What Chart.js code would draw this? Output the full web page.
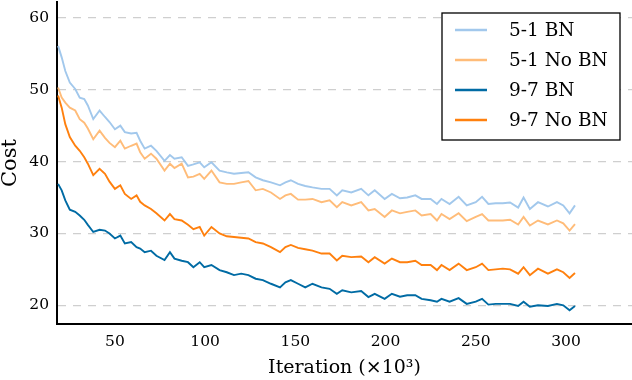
<!DOCTYPE html>
<html lang="en">
<head>
  <meta charset="UTF-8" />
  <title>Cost vs iteration</title>
  <script src="https://cdn.jsdelivr.net/npm/chart.js"></script>
  <style>
    html, body {
      margin: 0;
      padding: 0;
      background: #fff;
    }
    #wrap {
      width: 632px;
      height: 380px;
    }
  </style>
</head>
<body>
  <div id="wrap"><canvas id="costChart" width="632" height="380"></canvas></div>

  <script>
    // iterations (x10^3), shared by all four runs
    const iterations = [
      18.5, 20.5, 22.5, 25, 28, 30.5, 33, 35, 38, 41.5, 44.5, 47, 50, 53, 55.5, 59, 62, 64, 66.5, 70,
      73, 77.5, 80.5, 83, 87, 90.5, 93.5, 97, 99.5, 103.5, 108, 112, 116, 120, 124, 128, 132, 136.5, 141.5, 144.5,
      147.5, 151.5, 155.5, 159.5, 164.5, 169, 173, 176, 181, 186.5, 190.5, 194, 199.5, 203.5, 208, 212, 216.5, 220, 225, 228.5,
      231, 235.5, 240.5, 245, 250, 253.5, 257, 261, 265, 269, 273.5, 276.5, 280, 284.5, 290, 295, 298.5, 302, 305
    ];

    const cost51BN = [
      56.1, 54.5, 52.6, 51.0, 50.1, 48.9, 48.7, 47.8, 45.9, 47.1, 46.2, 45.5, 44.5, 45.0, 44.1, 43.9, 44.0, 42.9, 41.8, 42.2,
      41.5, 40.1, 40.9, 40.4, 40.6, 39.4, 39.6, 39.9, 39.2, 39.9, 38.75, 38.5, 38.3, 38.4, 38.5, 37.8, 37.4, 37.1, 36.7, 37.1,
      37.4, 36.9, 36.6, 36.4, 36.2, 36.2, 35.3, 36.0, 35.7, 36.2, 35.3, 36.0, 34.8, 35.5, 34.9, 35.0, 35.3, 34.8, 34.8, 34.1,
      34.8, 34.1, 35.1, 33.9, 34.35, 35.1, 34.1, 34.2, 34.2, 34.3, 33.6, 35.0, 33.4, 34.35, 33.75, 34.35, 33.9, 32.8, 33.9
    ];

    const cost51NoBN = [
      50.3, 48.9, 48.2, 47.5, 47.1, 45.9, 45.4, 44.6, 43.1, 44.3, 43.3, 42.6, 42.0, 42.9, 41.8, 42.2, 42.5, 41.3, 40.4, 41.1,
      40.4, 38.75, 39.7, 39.1, 39.7, 37.8, 37.9, 38.3, 37.6, 38.75, 37.1, 36.9, 36.9, 37.1, 37.3, 36.0, 36.2, 35.7, 34.8, 35.3,
      35.5, 34.7, 34.7, 34.8, 34.35, 34.6, 33.65, 34.35, 33.9, 34.35, 33.2, 33.4, 32.3, 33.2, 32.8, 33.0, 33.2, 32.5, 32.7, 31.8,
      32.7, 32.0, 32.8, 31.7, 32.3, 32.7, 31.8, 31.8, 31.8, 31.9, 31.25, 32.3, 31.1, 31.8, 31.25, 31.8, 31.4, 30.4, 31.3
    ];

    const cost97BN = [
      36.9, 36.0, 34.6, 33.3, 33.0, 32.5, 31.9, 31.2, 30.2, 30.5, 30.4, 30.0, 29.3, 29.7, 28.6, 28.8, 28.1, 27.9, 27.4, 27.6,
      26.9, 26.3, 27.4, 26.5, 26.2, 26.0, 25.3, 26.0, 25.3, 25.6, 24.9, 24.6, 24.2, 24.4, 24.2, 23.7, 23.5, 23.0, 22.5, 23.2,
      23.5, 23.0, 22.5, 23.0, 22.5, 22.3, 21.6, 22.1, 21.8, 22.0, 21.15, 21.6, 20.9, 21.6, 21.2, 21.4, 21.4, 20.9, 20.7, 20.5,
      20.9, 20.5, 21.0, 20.2, 20.5, 20.9, 20.1, 20.2, 20.2, 20.2, 19.9, 20.5, 19.8, 20.0, 19.9, 20.2, 20.0, 19.3, 19.9
    ];

    const cost97NoBN = [
      49.2, 47.5, 45.2, 43.4, 42.2, 41.5, 40.6, 39.7, 38.1, 39.0, 38.3, 37.2, 36.2, 36.7, 35.5, 34.8, 35.3, 34.4, 33.9, 33.4,
      32.8, 31.8, 32.7, 32.0, 31.8, 31.2, 30.6, 30.9, 29.7, 30.9, 30.0, 29.6, 29.5, 29.4, 29.3, 28.8, 28.6, 28.1, 27.4, 28.1,
      28.4, 28.0, 27.8, 27.6, 27.2, 27.2, 26.25, 26.9, 26.7, 26.8, 26.0, 26.7, 25.8, 26.5, 26.0, 26.0, 26.2, 25.6, 25.6, 24.9,
      25.6, 24.9, 25.8, 24.9, 25.3, 25.8, 24.9, 25.0, 25.1, 25.0, 24.4, 25.3, 24.2, 25.1, 24.4, 25.0, 24.6, 23.8, 24.5
    ];

    const seriesLabels = ['5-1 BN', '5-1 No BN', '9-7 BN', '9-7 No BN'];
    const seriesColors = ['#A2C8EC', '#FFBC79', '#006BA4', '#FF800E'];
    const xTicks = [50, 100, 150, 200, 250, 300];
    const yTicks = [20, 30, 40, 50, 60];

    const FONT = "'DejaVu Serif', serif";

    function toPoints(ys) {
      return ys.map((y, i) => ({ x: iterations[i], y }));
    }

    // legend box drawn inside the plot, top right
    const boxLegend = {
      id: 'boxLegend',
      afterDraw(chart) {
        const ctx = chart.ctx;
        const left = 442, top = 13, w = 178, h = 127;
        ctx.save();
        ctx.fillStyle = '#fff';
        ctx.fillRect(left, top, w, h);
        ctx.strokeStyle = '#000';
        ctx.lineWidth = 1.3;
        ctx.strokeRect(left, top, w, h);
        ctx.font = "18.5px " + FONT;
        ctx.textBaseline = 'middle';
        ctx.textAlign = 'left';
        chart.data.datasets.forEach((ds, i) => {
          const y = top + 17 + i * 30;
          ctx.strokeStyle = ds.borderColor;
          ctx.lineWidth = 2.5;
          ctx.beginPath();
          ctx.moveTo(455, y);
          ctx.lineTo(487, y);
          ctx.stroke();
          ctx.fillStyle = '#000';
          ctx.fillText(ds.label, 509, y + 1);
        });
        ctx.restore();
      }
    };

    const datasets = [cost51BN, cost51NoBN, cost97BN, cost97NoBN].map((ys, i) => ({
      label: seriesLabels[i],
      data: toPoints(ys),
      borderColor: seriesColors[i],
      backgroundColor: seriesColors[i],
      borderWidth: 1.9,
      pointRadius: 0,
      tension: 0,
      fill: false
    }));

    new Chart(document.getElementById('costChart'), {
      type: 'line',
      data: { datasets },
      options: {
        responsive: false,
        animation: false,
        layout: { padding: { top: 2, right: 0, left: 0, bottom: 0 } },
        plugins: {
          legend: { display: false },
          tooltip: { enabled: false }
        },
        scales: {
          x: {
            type: 'linear',
            min: 17.9,
            max: 336.6,
            afterBuildTicks: s => { s.ticks = xTicks.map(v => ({ value: v })); },
            afterFit: s => { s.height = 56; s.paddingLeft = 0; s.paddingRight = 0; },
            grid: { display: false, drawTicks: false },
            border: { display: true, color: '#000', width: 2 },
            ticks: {
              padding: 9,
              color: '#000',
              font: { family: FONT, size: 15.5 }
            },
            title: {
              display: true,
              text: 'Iteration (×10³)',
              color: '#000',
              font: { family: FONT, size: 19 },
              padding: { top: 0, bottom: 1 }
            }
          },
          y: {
            type: 'linear',
            min: 17.4,
            max: 62.2,
            afterBuildTicks: s => { s.ticks = yTicks.map(v => ({ value: v })); },
            afterFit: s => { s.width = 57; s.paddingTop = 0; s.paddingBottom = 0; },
            grid: { color: '#cfcfcf', lineWidth: 1.2, drawTicks: false },
            border: { display: true, color: '#000', width: 2, dash: [8, 7] },
            ticks: {
              padding: 8,
              color: '#000',
              font: { family: FONT, size: 15.5 }
            },
            title: {
              display: true,
              text: 'Cost',
              color: '#000',
              font: { family: FONT, size: 21, lineHeight: 1.0 },
              padding: { top: 0, bottom: 0 }
            }
          }
        }
      },
      plugins: [boxLegend]
    });
  </script>
</body>
</html>
